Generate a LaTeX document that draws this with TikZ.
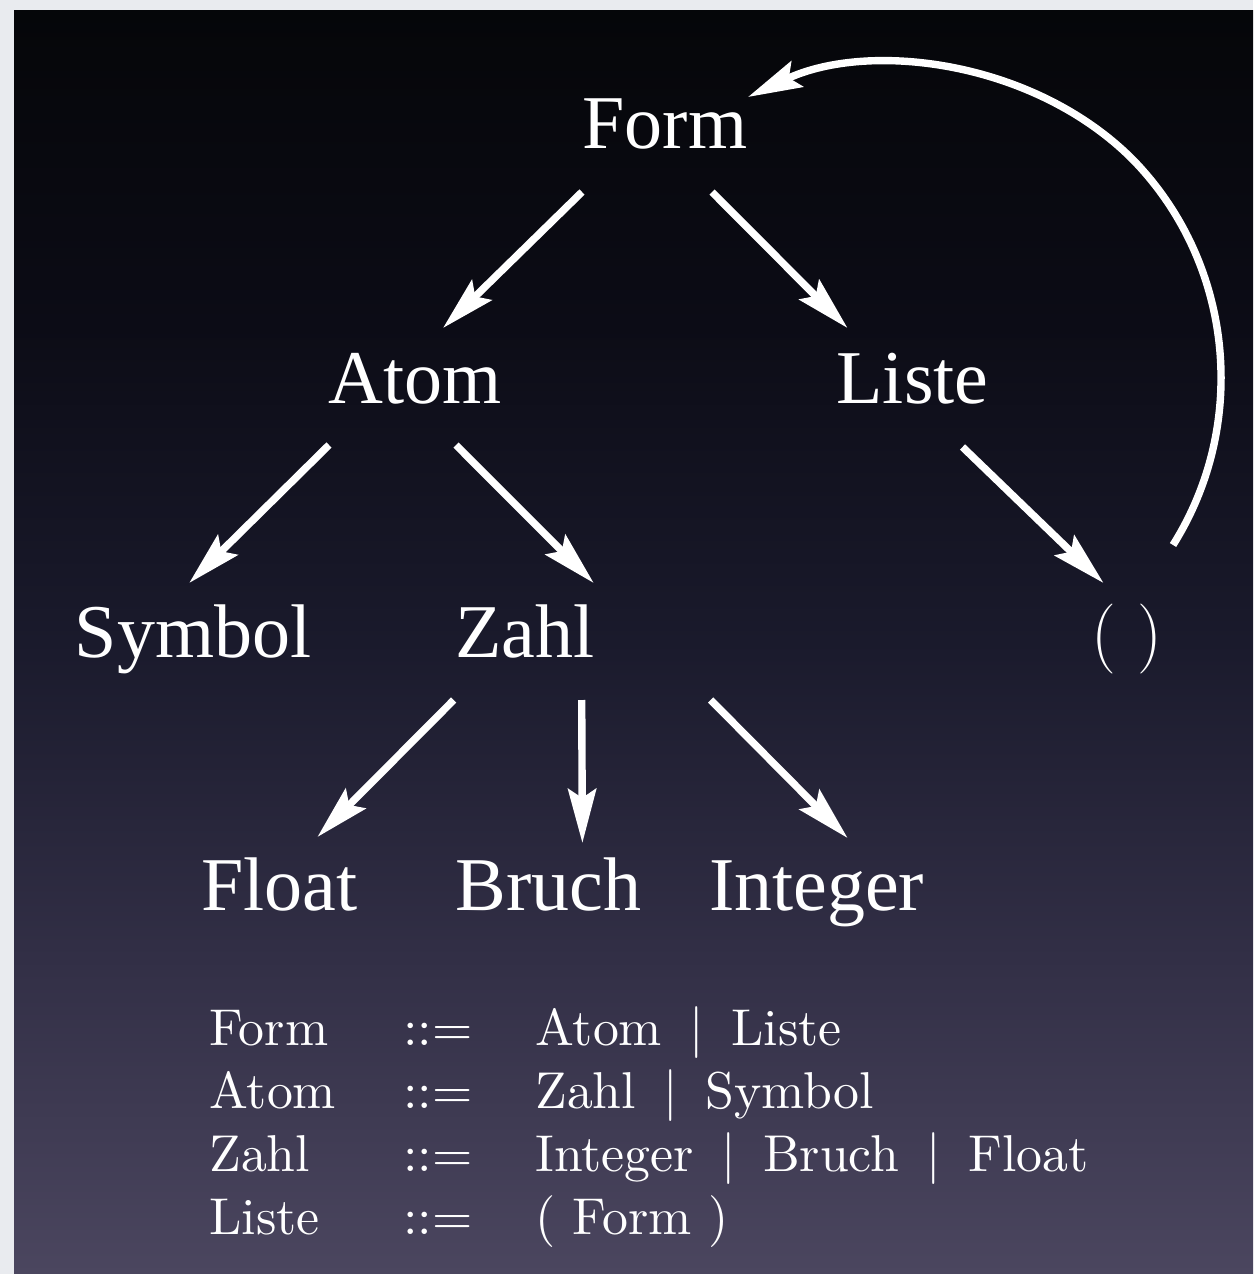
\documentclass[tikz,border=0pt]{standalone}
\usepackage{fontspec}
\usetikzlibrary{arrows.meta}
\newfontfamily\treefont{Liberation Serif}
\newfontfamily\gramfont{lmroman10-regular.otf}
\definecolor{bgTop}{RGB}{5,6,9}
\definecolor{bgUpper}{RGB}{12,12,22}
\definecolor{bgMid}{RGB}{26,26,44}
\definecolor{bgLower}{RGB}{50,47,70}
\definecolor{bgBottom}{RGB}{75,70,95}
\definecolor{frameGrey}{RGB}{233,235,239}
\pgfdeclareverticalshading{slidebg}{100bp}{color(0bp)=(bgBottom); color(25bp)=(bgBottom);
  color(37.5bp)=(bgLower); color(50bp)=(bgMid); color(62.5bp)=(bgUpper);
  color(75bp)=(bgTop); color(100bp)=(bgTop)}
\tikzset{
  >={Stealth[length=27pt, width=14pt, inset=4.5pt]},
  term/.style={font={\treefont\fontsize{38}{40}\selectfont}, text=white,
              inner sep=0pt, anchor=base},
  nilterm/.style={font={\fontsize{35}{40}\selectfont}, text=white,
              inner sep=0pt, anchor=base},
  rule/.style={font={\gramfont\fontsize{25.9}{30}\selectfont}, text=white,
              inner sep=0pt, anchor=base west},
  flow/.style={->, draw=white, line width=3.7pt},
}
\newcommand{\gbar}{\hspace{0.53em}|\hspace{0.53em}}

\begin{document}
\begin{tikzpicture}[x=0.5pt, y=-0.5pt]
  \useasboundingbox (0,0) rectangle (1253,1274);
  \fill[frameGrey] (0,0) rectangle (1253,1274);
  \shade[shading=slidebg] (14,10) rectangle (1253,1274);
  % syntax tree
  \node[term] (form) at (665,148) {Form};
  \node[term] (atom) at (415,403) {Atom};
  \node[term] (liste) at (912.5,403) {Liste};
  \node[term] (symbol) at (193.2,657) {Symbol};
  \node[term] (zahl) at (524.7,657) {Zahl};
  \node[nilterm] (nil) at (1126.5,656) {( )};
  \node[term] (float) at (279.4,910) {Float};
  \node[term] (bruch) at (548.4,910) {Bruch};
  \node[term] (integer) at (816.6,910) {Integer};
  \foreach \a/\b/\sx/\sy/\ex/\ey in {form/atom/-83/44/28/-75, form/liste/47/44/-65/-75,
      atom/symbol/-86/42/-4/-74, atom/zahl/41/42/69/-74, liste/nil/50/44/-23/-73,
      zahl/float/-71/43/38/-73, zahl/bruch/57/43/34/-67, zahl/integer/186/43/31/-72}
    \draw[flow] ([shift={(\sx,\sy)}]\a.base) -- ([shift={(\ex,\ey)}]\b.base);
  % back to Form
  \coordinate (back) at (1173,545);
  \coordinate (loopmid) at (1133.2,160);
  \draw[flow] (back) .. controls (1249.7,423.1) and (1233.2,263) .. (loopmid)
    .. controls (1035,61) and (870,40) .. ([shift={(83,-51)}]form.base);
  % grammar
  \foreach \lhs/\rhs [count=\i] in {Form/{Atom\gbar Liste}, Atom/{Zahl\gbar Symbol},
      Zahl/{Integer\gbar Bruch\gbar Float}, Liste/{( Form )}}{
    \node[rule] (lhs\i) at (209,981.7+63.3*\i) {\lhs};
    \node[rule] (def\i) at (403,981.7+63.3*\i) {::=};
    \node[rule] (rhs\i) at (535,981.7+63.3*\i) {\rhs};
  }
\end{tikzpicture}
\end{document}
